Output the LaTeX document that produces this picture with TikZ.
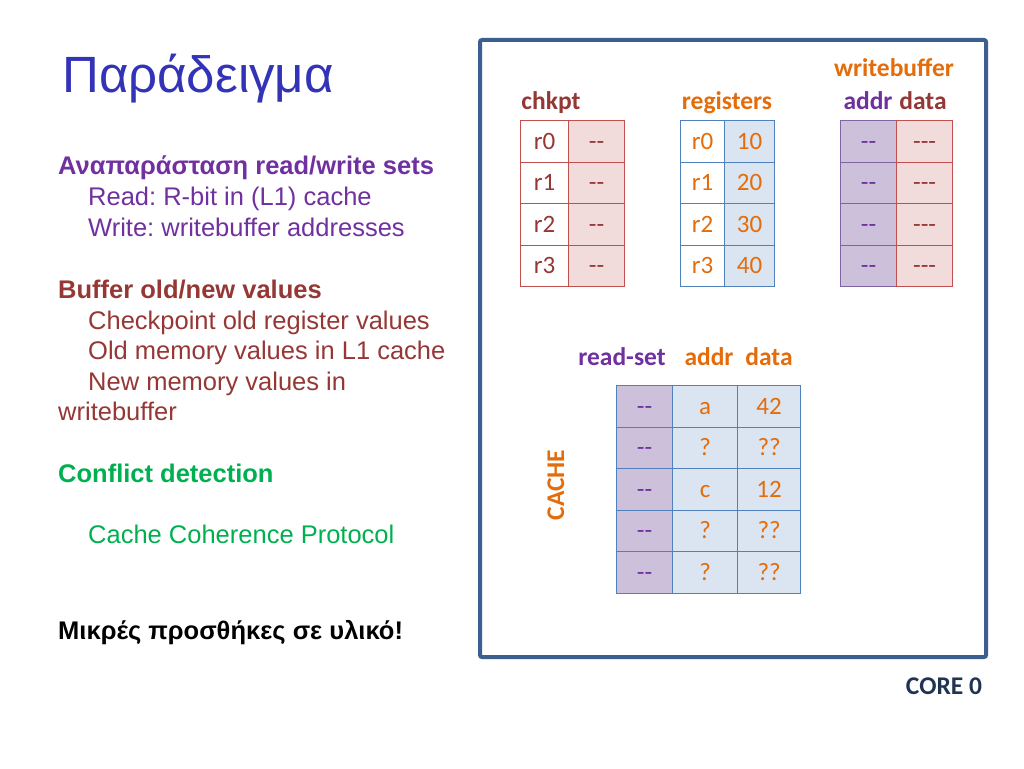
\documentclass[tikz,border=0pt]{standalone}
\usepackage{fontspec}
\setmainfont{Liberation Sans}
\newfontfamily\calfont{Carlito}
\definecolor{TitleBlue}{HTML}{3333B8}
\definecolor{SetPurple}{HTML}{7030A0}
\definecolor{BufRed}{HTML}{953735}
\definecolor{DetGreen}{HTML}{00B050}
\definecolor{RegOrange}{HTML}{E46C0A}
\definecolor{CoreNavy}{HTML}{1F3452}
\definecolor{FrameBlue}{HTML}{3D5F8F}
\definecolor{PinkFill}{HTML}{F2DCDB}
\definecolor{PinkLine}{HTML}{C0504D}
\definecolor{BlueFill}{HTML}{DBE5F1}
\definecolor{BlueLine}{HTML}{4F81BD}
\definecolor{LilacFill}{HTML}{CCC0DA}
\definecolor{LilacLine}{HTML}{8064A2}
\newcommand{\dd}{-{}-}
\newcommand{\ddd}{-{}-{}-}
\frenchspacing
\tikzset{
  cell/.style={draw, line width=1.2pt, anchor=north west, minimum height=41.5pt,
    inner sep=0pt, text height=16pt, text depth=0pt,
    font=\calfont\fontsize{25}{30}\selectfont},
  head/.style={inner sep=0pt, text height=17pt, text depth=1pt,
    font=\calfont\bfseries\fontsize{25.5}{30}\selectfont},
  topic/.style={anchor=base west, inner sep=0pt, font=\bfseries\fontsize{25.5}{30}\selectfont},
  item/.style={anchor=base west, inner sep=0pt, font=\fontsize{25.5}{30}\selectfont},
}

\begin{document}
\begin{tikzpicture}[x=1pt,y=-1pt]
  \useasboundingbox (0,0) rectangle (1024,768);
  % left column
  \node[anchor=base west, inner sep=0pt, TitleBlue, font=\fontsize{51}{60}\selectfont] (title) at (62,92) {Παράδειγμα};
  \node[topic, SetPurple] (rwsets) at (58,174) {Αναπαράσταση read/write sets};
  \node[item, SetPurple] (rdset) at (88,205) {Read: R-bit in (L1) cache};
  \node[item, SetPurple] (wrset) at (88,236) {Write: writebuffer addresses};
  \node[topic, BufRed] (buffer) at (58,298) {Buffer old/new values};
  \node[item, BufRed] (oldreg) at (88,329) {Checkpoint old register values};
  \node[item, BufRed] (oldmem) at (88,359) {Old memory values in L1 cache};
  \node[item, BufRed] (newmem) at (88,390) {New memory values in};
  \node[item, BufRed] (newmem2) at (58,420) {writebuffer};
  \node[topic, DetGreen] (conflict) at (58,482) {Conflict detection};
  \node[item, DetGreen] (coher) at (88,543) {Cache Coherence Protocol};
  \node[topic, black] (hw) at (58,639) {Μικρές προσθήκες σε υλικό!};

  % core frame
  \draw[FrameBlue, line width=4pt, rounded corners=2pt] (480,40) rectangle (986,657);
  \node[head, CoreNavy] (core) at (944,686) {CORE 0};

  % chkpt
  \node[head, BufRed] (chkpt) at (551,101) {chkpt};
  \foreach \i in {0,...,3} {
    \node[cell, draw=PinkLine, text=BufRed, minimum width=48pt] (chk-n\i) at (520,{120+41.5*\i}) {r\i};
    \node[cell, draw=PinkLine, fill=PinkFill, text=BufRed, minimum width=56pt] (chk-v\i) at (568,{120+41.5*\i}) {\dd};
  }

  % registers
  \node[head, RegOrange] (regs) at (727,101) {registers};
  \foreach \i/\v in {0/10,1/20,2/30,3/40} {
    \node[cell, draw=BlueLine, text=RegOrange, minimum width=44pt] (reg-n\i) at (680,{120+41.5*\i}) {r\i};
    \node[cell, draw=BlueLine, fill=BlueFill, text=RegOrange, minimum width=50pt] (reg-v\i) at (724,{120+41.5*\i}) {\v};
  }

  % writebuffer
  \node[head, RegOrange] (wbuf) at (894,69) {writebuffer};
  \node[head, SetPurple] (wb-addr) at (868,101) {addr};
  \node[head, BufRed] (wb-data) at (923,101) {data};
  \foreach \i in {0,...,3} {
    \node[cell, draw=LilacLine, fill=LilacFill, text=SetPurple, minimum width=56pt] (wb-a\i) at (840,{120+41.5*\i}) {\dd};
    \node[cell, draw=PinkLine, fill=PinkFill, text=BufRed, minimum width=56pt] (wb-d\i) at (896,{120+41.5*\i}) {\ddd};
  }

  % cache
  \node[head, SetPurple] (rset) at (622,357) {read-set};
  \node[head, RegOrange] (c-addr) at (709,357) {addr};
  \node[head, RegOrange] (c-data) at (769,357) {data};
  \node[head, RegOrange, rotate=90] (cache) at (556,485) {CACHE};
  \foreach \i/\a/\d in {0/a/42,1/?/??,2/c/12,3/?/??,4/?/??} {
    \node[cell, draw=BlueLine, fill=LilacFill, text=SetPurple, minimum width=56pt] (c-r\i) at (616,{385+41.5*\i}) {\dd};
    \node[cell, draw=BlueLine, fill=BlueFill, text=RegOrange, minimum width=65pt] (c-a\i) at (672,{385+41.5*\i}) {\a};
    \node[cell, draw=BlueLine, fill=BlueFill, text=RegOrange, minimum width=63pt] (c-d\i) at (737,{385+41.5*\i}) {\d};
  }
\end{tikzpicture}
\end{document}
